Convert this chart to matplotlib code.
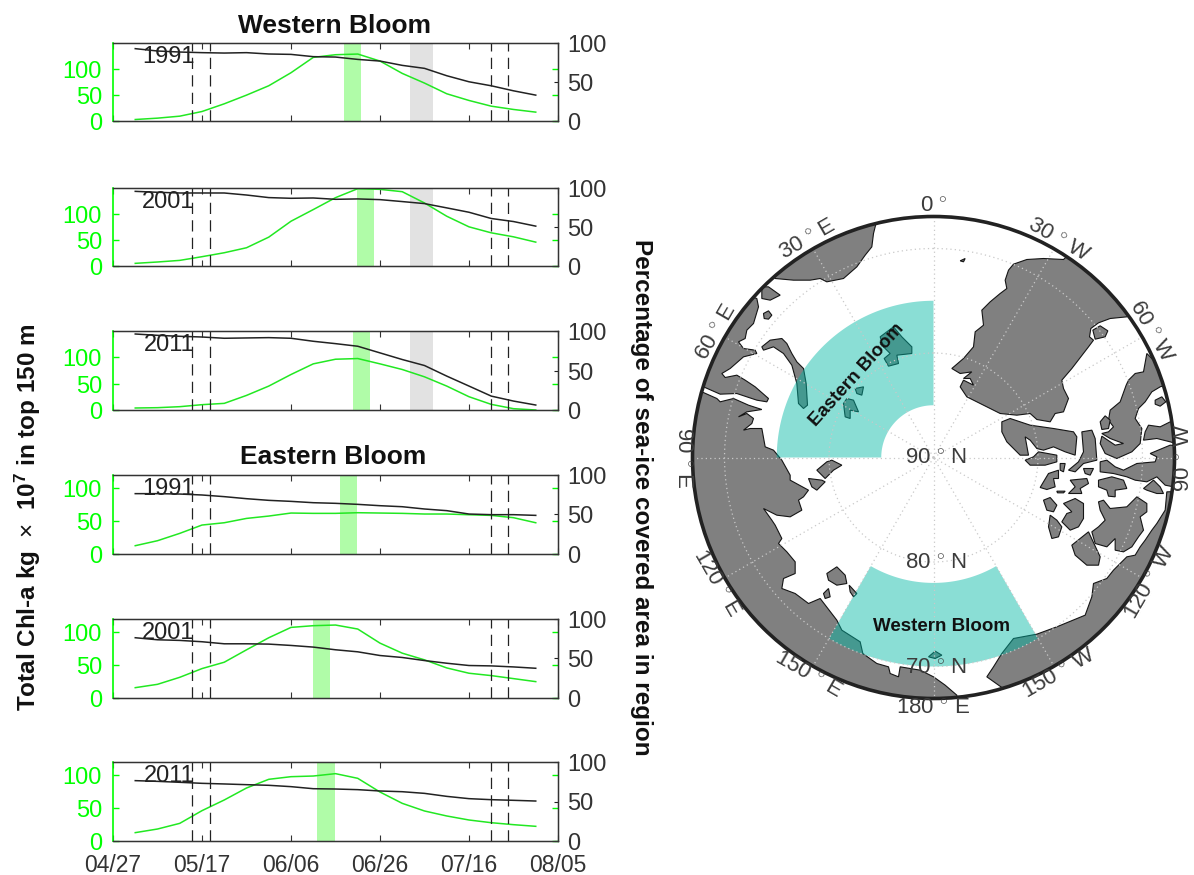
import matplotlib
matplotlib.use('Agg')
import matplotlib.pyplot as plt
import matplotlib.transforms as mtrans
import numpy as np
from matplotlib.patches import Circle, Polygon

plt.rcParams['font.family'] = ['Liberation Sans', 'DejaVu Sans']
plt.rcParams['mathtext.fontset'] = 'custom'
plt.rcParams['mathtext.rm'] = 'Liberation Sans'
plt.rcParams['mathtext.bf'] = 'Liberation Sans:bold'

# ---- time series, days since 04/27
days = [5, 10, 15, 20, 25, 30, 35, 40, 45, 50, 55, 60, 65, 70, 75, 80, 85, 90, 95]
date_ticks = [0, 20, 40, 60, 80, 100]
date_labels = ['04/27', '05/17', '06/06', '06/26', '07/16', '08/05']
dashed_days = [17.8, 21.9, 84.9, 88.8]
grey_window = [66.8, 71.8]

west_chl_1991 = [3.8, 6.4, 10.2, 19.1, 33.8, 50.4, 68.3, 93.2, 122.5, 127.6, 128.9, 115.5, 91.9, 73.4, 53, 40.2, 29.3, 23, 17.9]
west_ice_1991 = [92.8, 89.8, 88.5, 87.7, 87.2, 87.7, 86, 85.5, 82.6, 82.1, 79.1, 77, 71.5, 67.7, 58.3, 50.6, 45.5, 39.1, 33.6]
west_chl_2001 = [5.1, 7.7, 10.8, 17.9, 25.5, 35.1, 55.5, 86.1, 108.5, 131.4, 148.7, 147.4, 142.9, 121.2, 95.7, 75.3, 63.8, 56.1, 45.9]
west_ice_2001 = [95.7, 94.5, 93.6, 93.6, 93.6, 91, 87.7, 86.8, 87.2, 85.5, 86, 85.1, 82.6, 80, 74.5, 68.9, 60.9, 57, 51.1]
west_chl_2011 = [3.8, 4.4, 6.3, 10.1, 12.6, 27.7, 45.4, 67.4, 87.6, 96.4, 97.7, 87.6, 76.9, 63, 45.4, 25.2, 10.7, 2.5, 0]
west_ice_2011 = [96.2, 94.5, 93.3, 92.4, 90.8, 91.2, 91.6, 90.8, 87, 84, 80.7, 72.3, 63.9, 56.3, 42.9, 30.3, 17.6, 11.3, 6.3]
east_chl_1991 = [12.2, 19.8, 31, 43.7, 47.2, 53.8, 57.4, 62, 61.5, 61.5, 62.5, 62, 61.5, 60.5, 60.5, 59.4, 58.4, 54.9, 47.2]
east_ice_1991 = [76.3, 76.3, 75.8, 74.6, 72.5, 69.9, 67.8, 66.5, 64.8, 64, 62.7, 61, 59.7, 56.8, 54.7, 50.4, 49.6, 49.6, 48.7]
east_chl_2001 = [15.3, 20.4, 31.1, 44.4, 54.1, 73, 91.4, 107.2, 109.8, 110.8, 104.7, 83.2, 67.9, 57.7, 45.4, 37.3, 33.7, 29.1, 24.5]
east_ice_2001 = [76.2, 73.6, 72.8, 71.1, 68.5, 68.5, 68.1, 66.4, 64.3, 60.9, 58.3, 53.6, 51.1, 47.2, 43.8, 40.9, 40.4, 39.1, 37.4]
east_chl_2011 = [12.7, 18.2, 26.8, 46.1, 62.3, 80.5, 93.7, 97.7, 98.7, 102.3, 95.2, 74.4, 57.2, 45.6, 38, 31.9, 27.8, 24.8, 22.3]
east_ice_2011 = [76.4, 75.5, 74.3, 73, 72.2, 71.3, 70.5, 68.8, 66.2, 65.8, 65, 63.3, 62.4, 60.3, 56.5, 53.6, 52.3, 51.5, 50.6]

years = ['1991', '2001', '2011', '1991', '2001', '2011']
chl_series = [west_chl_1991, west_chl_2001, west_chl_2011, east_chl_1991, east_chl_2001, east_chl_2011]
ice_series = [west_ice_1991, west_ice_2001, west_ice_2011, east_ice_1991, east_ice_2001, east_ice_2011]
bloom_windows = [[51.9, 55.8], [54.8, 58.75], [53.9, 57.8], [50.9, 54.8], [44.9, 48.8], [45.8, 49.8]]
chl_max = [150, 150, 150, 120, 120, 120]

# ---- map data: coast outlines traced in stereographic map units, pole at pole_xy
pole_xy = (760, 802)
units_per_degree = 31.35
map_radius = 723

land_eurasia = [(65, 605), (110, 625), (120, 635), (160, 625), (205, 645), (245, 658), (200, 665), (175, 680), (200, 670), (220, 685), (215, 700), (190, 720), (210, 715), (245, 715), (255, 770), (280, 780), (305, 810), (330, 855), (330, 870), (385, 900), (370, 920), (355, 930), (365, 960), (330, 980), (290, 975), (250, 955), (275, 990), (285, 1005), (305, 1045), (295, 1060), (320, 1085), (345, 1115), (345, 1150), (310, 1165), (305, 1195), (345, 1210), (385, 1240), (420, 1225), (470, 1290), (485, 1320), (540, 1355), (548, 1390), (590, 1420), (625, 1430), (630, 1450), (655, 1460), (660, 1430), (720, 1440), (760, 1460), (795, 1485), (830, 1515), (830, 1700), (-100, 1700), (-100, 598)]
land_taymyr = [(230, 325), (235, 350), (220, 400), (200, 420), (195, 445), (175, 455), (190, 475), (225, 480), (230, 490), (190, 500), (150, 535), (125, 550), (135, 562), (170, 555), (195, 570), (225, 590), (265, 625), (260, 635), (230, 630), (170, 610), (120, 612), (70, 590), (-50, 560), (0, 250)]
land_scandinavia = [(285, 265), (340, 270), (390, 270), (420, 265), (440, 275), (490, 265), (530, 230), (555, 195), (575, 170), (580, 130), (590, 90), (400, 40), (240, 230)]
land_greenland = [(1000, 222), (1040, 208), (1090, 205), (1150, 208), (1190, 170), (1400, 330), (1340, 380), (1290, 385), (1255, 398), (1232, 415), (1228, 440), (1240, 450), (1225, 470), (1175, 535), (1145, 570), (1150, 595), (1165, 625), (1150, 665), (1125, 670), (1110, 695), (1070, 688), (1050, 670), (1010, 675), (960, 670), (900, 640), (860, 620), (840, 590), (850, 570), (880, 585), (870, 565), (850, 565), (875, 545), (840, 550), (815, 535), (850, 505), (880, 470), (885, 425), (910, 405), (905, 360), (930, 335), (960, 310), (980, 295), (975, 270), (985, 240)]
land_iceland = [(1238, 420), (1260, 407), (1283, 422), (1275, 440), (1245, 447)]
land_baffin = [(1345, 570), (1365, 550), (1390, 545), (1400, 490), (1430, 520), (1455, 585), (1440, 590), (1415, 605), (1395, 635), (1375, 655), (1365, 685), (1385, 715), (1380, 760), (1355, 785), (1310, 805), (1275, 790), (1260, 760), (1265, 738), (1305, 765), (1330, 760), (1290, 745), (1265, 730), (1285, 725), (1300, 710), (1285, 690), (1290, 660), (1320, 635), (1338, 585)]
land_america = [(1460, 905), (1455, 960), (1430, 1000), (1415, 1020), (1395, 1050), (1380, 1070), (1365, 1095), (1340, 1100), (1300, 1140), (1280, 1165), (1240, 1180), (1235, 1220), (1215, 1275), (1130, 1310), (1070, 1332), (1000, 1345), (965, 1390), (940, 1430), (920, 1460), (965, 1492), (1000, 1700), (1700, 1700), (1700, 900)]
land_east_block = [(1405, 705), (1440, 710), (1470, 695), (1490, 690), (1520, 770), (1470, 755), (1430, 745), (1390, 750), (1395, 725)]
land_east_strait = [(1260, 815), (1280, 810), (1305, 830), (1330, 840), (1370, 820), (1425, 815), (1430, 800), (1410, 790), (1470, 765), (1530, 770), (1530, 900), (1455, 885), (1430, 860), (1400, 875), (1365, 870), (1340, 860), (1300, 850), (1260, 845)]
land_islands = [
    [(965, 695), (990, 685), (1050, 705), (1120, 715), (1180, 725), (1190, 740), (1185, 795), (1155, 785), (1120, 770), (1090, 780), (1070, 775), (1050, 750), (1035, 740), (1045, 795), (1020, 795), (980, 755), (965, 725)],
    [(1035, 810), (1060, 800), (1075, 785), (1130, 795), (1130, 815), (1095, 825), (1050, 825)],
    [(1165, 840), (1195, 815), (1210, 785), (1205, 725), (1235, 720), (1245, 745), (1250, 810), (1210, 820), (1185, 845)],
    [(1140, 820), (1155, 820), (1150, 845), (1140, 840)],
    [(1105, 850), (1135, 840), (1135, 865), (1120, 865), (1125, 890), (1100, 898), (1080, 892), (1090, 875)],
    [(1170, 870), (1220, 865), (1225, 880), (1200, 895), (1205, 910), (1165, 910), (1185, 890)],
    [(1210, 835), (1240, 835), (1230, 855), (1215, 850)],
    [(1255, 870), (1275, 865), (1295, 860), (1330, 870), (1340, 895), (1305, 900), (1305, 920), (1285, 918), (1280, 900), (1255, 890)],
    [(1390, 895), (1420, 870), (1440, 890), (1450, 910), (1430, 910), (1400, 900)],
    [(1090, 930), (1110, 922), (1130, 945), (1120, 965), (1100, 960)],
    [(1150, 940), (1185, 925), (1210, 940), (1210, 985), (1195, 1010), (1170, 1020), (1145, 995), (1160, 970), (1175, 965)],
    [(1110, 975), (1130, 990), (1145, 1010), (1135, 1040), (1115, 1045), (1105, 1010)],
    [(1255, 935), (1270, 930), (1290, 955), (1340, 950), (1370, 920), (1400, 940), (1400, 965), (1380, 980), (1390, 1020), (1375, 1040), (1355, 1070), (1330, 1085), (1305, 1080), (1305, 1045), (1280, 1070), (1245, 1060), (1235, 1025), (1255, 1010), (1275, 990), (1260, 960)],
    [(1175, 1065), (1225, 1025), (1260, 1100), (1255, 1125), (1220, 1125), (1185, 1095)],
    [(1425, 630), (1445, 620), (1457, 635), (1440, 648), (1425, 642)],
    [(1260, 695), (1275, 677), (1290, 690), (1285, 715), (1265, 718)],
    [(1130, 903), (1155, 903), (1150, 908), (1132, 908)],
    [(245, 290), (265, 290), (300, 315), (270, 330), (245, 325)],
    [(250, 370), (265, 362), (275, 375), (265, 387), (252, 385)],
    [(245, 470), (270, 450), (305, 445), (320, 460), (335, 490), (350, 515), (370, 535), (378, 580), (382, 645), (370, 655), (355, 640), (350, 580), (335, 525), (310, 490), (280, 470), (250, 480)],
    [(490, 640), (500, 625), (520, 630), (535, 665), (510, 660), (510, 685), (495, 680)],
    [(525, 595), (550, 590), (545, 615), (530, 610)],
    [(600, 440), (640, 410), (665, 440), (695, 470), (695, 490), (650, 495), (655, 520), (625, 528), (612, 505), (630, 490), (610, 470)],
    [(840, 212), (855, 205), (850, 215)],
    [(440, 1150), (470, 1130), (495, 1155), (500, 1180), (470, 1185), (445, 1170)],
    [(430, 1210), (445, 1195), (450, 1220), (435, 1225)],
    [(507, 1185), (530, 1210), (520, 1220), (510, 1205)],
    [(410, 840), (440, 815), (455, 810), (485, 825), (460, 840), (435, 865)],
    [(385, 865), (425, 870), (435, 875), (410, 900), (395, 890)],
    [(745, 1400), (765, 1383), (785, 1395), (765, 1405)],
]

meridians = [0, 30, 60, 90, 120, 150, 180, 210, 240, 270, 300, 330]
parallels = [80, 70]
lon_labels = ['0 $^{\\circ}$', '30 $^{\\circ}$ E', '60 $^{\\circ}$ E', '90 $^{\\circ}$ E', '120 $^{\\circ}$ E', '150 $^{\\circ}$ E', '180 $^{\\circ}$ E', '150 $^{\\circ}$ W', '120 $^{\\circ}$ W', '90 $^{\\circ}$ W', '60 $^{\\circ}$ W', '30 $^{\\circ}$ W']
lon_label_rot = [0, 30, 60, -90, -60, -30, 0, 30, 60, 90, -60, -30]
lat_labels = ['90 $^{\\circ}$ N', '80 $^{\\circ}$ N', '70 $^{\\circ}$ N']
east_box = [0, 90, 85, 75]  # lon0, lon1, lat inner, lat outer
west_box = [150, 210, 78, 70]

W, H = 1194, 875
GREEN = '#00ff00'
LINE_GREEN = '#22e822'
TEXT = '#333333'
fs = 17

fig = plt.figure(figsize=(W / 100, H / 100), dpi=100)


def axes_px(left, top, right, bottom):
    return fig.add_axes([left / W, 1 - bottom / H, (right - left) / W, (bottom - top) / H])


def shift_labels(labels, px):
    off = mtrans.ScaledTranslation(0, -px / 100, fig.dpi_scale_trans)
    for lab in labels:
        lab.set_transform(lab.get_transform() + off)


panel_tops = [43, 188, 331, 475, 619, 762]
panel_bottoms = [121.5, 266, 410, 553.7, 697.7, 841]

for i in range(6):
    ax = axes_px(113, panel_tops[i], 558, panel_bottoms[i])
    ax2 = ax.twinx()
    ax.set_xlim(0, 100)
    ax.set_ylim(0, chl_max[i])
    ax2.set_ylim(0, 100)
    ax.axvspan(bloom_windows[i][0], bloom_windows[i][1], color='#b0fca8', lw=0, zorder=1)
    if i < 3:
        ax.axvspan(grey_window[0], grey_window[1], color='#e2e2e2', lw=0, zorder=1)
    ax.plot(days, chl_series[i], color=LINE_GREEN, lw=1.1, zorder=3)
    ax2.plot(days, ice_series[i], color='#222222', lw=1.1, zorder=3)
    for d in dashed_days:
        ax2.axvline(d, color='#222222', lw=0.9, dashes=(9, 5), zorder=2)
    ax.set_yticks([0, 50, 100])
    ax2.set_yticks([0, 50, 100])
    ax.tick_params(axis='y', direction='in', length=4, width=1, color=GREEN, labelcolor=GREEN,
                   labelsize=fs, right=True, pad=8)
    ax2.tick_params(axis='y', direction='in', length=3, width=0.8, color='#222222', labelcolor=TEXT,
                    labelsize=fs, pad=6.5)
    ax.set_xticks(date_ticks)
    ax.tick_params(axis='x', direction='in', length=4, width=0.8, top=True, color='#333333',
                   labelcolor=TEXT, labelsize=16.5, pad=9, labelbottom=(i == 5))
    if i == 5:
        ax.set_xticklabels(date_labels)
    shift_labels(ax.get_yticklabels(), 0.5)
    shift_labels(ax2.get_yticklabels(), 0.5)
    ax.spines['left'].set_color(GREEN)
    ax.spines['left'].set_linewidth(1.2)
    ax2.spines['left'].set_visible(False)
    for s in ['top', 'bottom', 'right']:
        ax2.spines[s].set_color('#333333')
        ax2.spines[s].set_linewidth(1)
    ax2.text(18.3, 0.82, years[i], transform=ax2.get_xaxis_transform(), ha='right', va='center',
             fontsize=fs, color='#222222', zorder=5)

fig.text(334 / W, 1 - 26 / H, 'Western Bloom', ha='center', va='center', fontsize=19, fontweight='bold', color='#111111')
fig.text(333 / W, 1 - 457 / H, 'Eastern Bloom', ha='center', va='center', fontsize=19, fontweight='bold', color='#111111')
fig.text(28 / W, 1 - 517 / H, 'Total Chl-a kg  $\\times$  $\\mathbf{10^7}$ in top 150 m', rotation=90,
         ha='center', va='center', fontsize=17.5, fontweight='bold', color='#111111')
fig.text(642 / W, 1 - 497 / H, 'Percentage of sea-ice covered area in region', rotation=-90,
         ha='center', va='center', fontsize=17.5, fontweight='bold', color='#111111')

# ---- polar map
m = axes_px(933.5 - 241, 457.5 - 241, 933.5 + 241, 457.5 + 241)
m.set_xlim(-map_radius, map_radius)
m.set_ylim(-map_radius, map_radius)
m.axis('off')
clip = Circle((0, 0), map_radius, transform=m.transData)


def to_map(points):
    pts = np.array(points, dtype=float)
    return np.column_stack([pts[:, 0] - pole_xy[0], pole_xy[1] - pts[:, 1]])


def lonlat_to_map(lon, lat):
    # east longitudes run anticlockwise from the top
    r = (90 - np.asarray(lat, dtype=float)) * units_per_degree
    t = np.deg2rad(np.asarray(lon, dtype=float))
    return -r * np.sin(t), r * np.cos(t)


all_land = [land_eurasia, land_taymyr, land_scandinavia, land_greenland, land_iceland, land_baffin,
            land_america, land_east_block, land_east_strait] + land_islands
for land in all_land:
    p = Polygon(to_map(land), closed=True, facecolor='#808080', edgecolor='#151515', lw=0.8, zorder=2)
    m.add_patch(p)
    p.set_clip_path(clip)

for box in [east_box, west_box]:
    lons = np.linspace(box[0], box[1], 60)
    xo, yo = lonlat_to_map(lons, np.full(60, box[3]))
    xi, yi = lonlat_to_map(lons[::-1], np.full(60, box[2]))
    m.fill(np.r_[xo, xi], np.r_[yo, yi], color='#00b7a5', alpha=0.46, lw=0, zorder=3)

for lon in meridians:
    x, y = lonlat_to_map([lon, lon], [90, 90 - map_radius / units_per_degree])
    m.plot(x, y, color='#c9c9c9', lw=0.9, ls=(0, (1, 2.5)), zorder=4)
for lat in parallels:
    lons = np.linspace(0, 360, 361)
    x, y = lonlat_to_map(lons, np.full(361, lat))
    m.plot(x, y, color='#c9c9c9', lw=0.9, ls=(0, (1, 2.5)), zorder=4)

m.add_patch(Circle((0, 0), map_radius, fill=False, edgecolor='#222222', lw=2.6, zorder=6, clip_on=False))

for k, lab in enumerate(lon_labels):
    x, y = lonlat_to_map(k * 30, 90 - 752 / units_per_degree)
    m.text(x, y, lab, rotation=lon_label_rot[k], rotation_mode='anchor', ha='center', va='center',
           fontsize=16, color='#3c3c3c', zorder=7, clip_on=False)
for k, lab in enumerate(lat_labels):
    y = [-3, -318, -633][k]
    m.text(6, y, lab, ha='center', va='center', fontsize=16, color='#3c3c3c', zorder=7)

m.text(-230, 247, 'Eastern Bloom', rotation=48, rotation_mode='anchor', ha='center', va='center',
       fontsize=13.5, fontweight='bold', color='#111111', zorder=7)
m.text(25, -507, 'Western Bloom', ha='center', va='center', fontsize=13.5, fontweight='bold', color='#111111', zorder=7)

fig.savefig('out.png', dpi=100)
